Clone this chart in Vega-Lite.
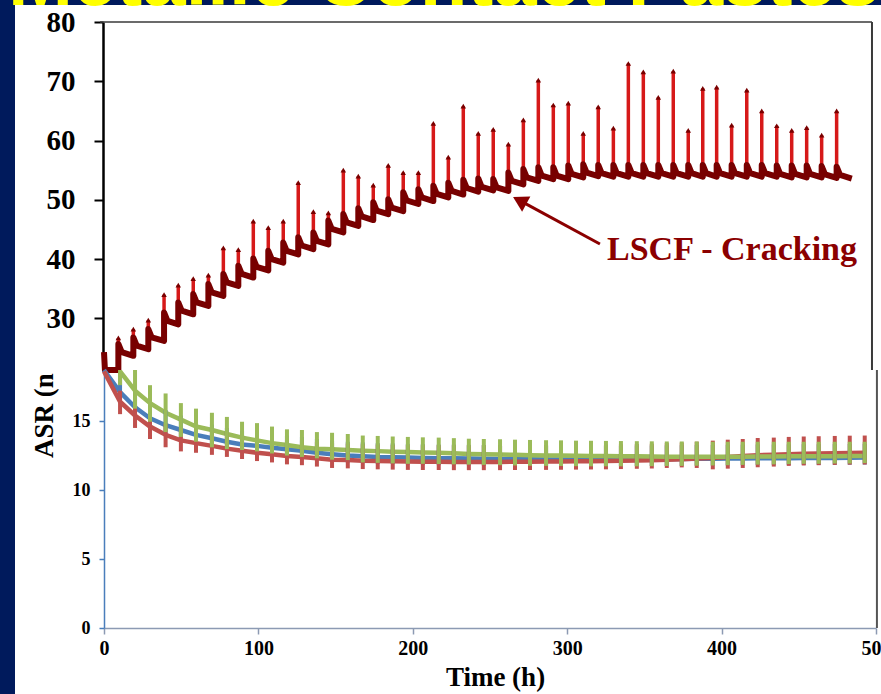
{
  "$schema": "https://vega.github.io/schema/vega-lite/v6.json",
  "width": 866,
  "height": 689,
  "autosize": {"type": "none"},
  "padding": {"left": 15, "top": 5, "right": 0, "bottom": 0},
  "background": "#001a5c",
  "config": {"view": {"stroke": null, "fill": "#ffffff"}, "axis": {"grid": false}},
  "datasets": {
    "spk": [
      {"t": 9.3, "low": 21.3, "peak": 26.7},
      {"t": 19.0, "low": 23.7, "peak": 28.2},
      {"t": 28.7, "low": 24.8, "peak": 29.7},
      {"t": 38.9, "low": 26.2, "peak": 34.0},
      {"t": 48.1, "low": 29.0, "peak": 35.6},
      {"t": 57.8, "low": 30.7, "peak": 36.7},
      {"t": 67.6, "low": 32.1, "peak": 37.3},
      {"t": 77.3, "low": 33.8, "peak": 41.9},
      {"t": 87.0, "low": 35.5, "peak": 41.6},
      {"t": 96.7, "low": 36.9, "peak": 46.4},
      {"t": 106.4, "low": 38.1, "peak": 45.3},
      {"t": 116.1, "low": 39.4, "peak": 46.4},
      {"t": 125.8, "low": 40.8, "peak": 52.9},
      {"t": 135.6, "low": 41.7, "peak": 48.0},
      {"t": 145.3, "low": 42.5, "peak": 47.8},
      {"t": 155.0, "low": 44.5, "peak": 55.0},
      {"t": 164.7, "low": 45.6, "peak": 54.0},
      {"t": 174.4, "low": 46.6, "peak": 52.5},
      {"t": 184.1, "low": 47.6, "peak": 55.8},
      {"t": 193.8, "low": 48.1, "peak": 54.6},
      {"t": 203.6, "low": 49.3, "peak": 54.6},
      {"t": 213.3, "low": 49.8, "peak": 62.9},
      {"t": 223.0, "low": 50.4, "peak": 57.2},
      {"t": 232.7, "low": 50.9, "peak": 65.8},
      {"t": 242.4, "low": 51.4, "peak": 61.2},
      {"t": 252.1, "low": 51.6, "peak": 61.9},
      {"t": 261.9, "low": 51.5, "peak": 59.4},
      {"t": 271.6, "low": 52.6, "peak": 63.5},
      {"t": 281.3, "low": 53.2, "peak": 70.2},
      {"t": 291.0, "low": 53.5, "peak": 66.0},
      {"t": 300.7, "low": 53.5, "peak": 66.3},
      {"t": 310.4, "low": 53.8, "peak": 61.2},
      {"t": 320.1, "low": 54.0, "peak": 65.7},
      {"t": 329.9, "low": 53.9, "peak": 62.1},
      {"t": 339.6, "low": 53.9, "peak": 73.0},
      {"t": 349.3, "low": 53.9, "peak": 71.6},
      {"t": 359.0, "low": 53.9, "peak": 67.3},
      {"t": 368.7, "low": 53.9, "peak": 71.7},
      {"t": 378.4, "low": 53.9, "peak": 61.7},
      {"t": 387.8, "low": 53.9, "peak": 68.8},
      {"t": 396.8, "low": 53.9, "peak": 69.0},
      {"t": 406.5, "low": 53.9, "peak": 62.6},
      {"t": 416.3, "low": 53.9, "peak": 68.5},
      {"t": 426.0, "low": 53.9, "peak": 65.0},
      {"t": 435.7, "low": 53.9, "peak": 62.5},
      {"t": 445.4, "low": 53.8, "peak": 61.7},
      {"t": 455.1, "low": 53.8, "peak": 62.2},
      {"t": 464.8, "low": 53.8, "peak": 60.9},
      {"t": 474.5, "low": 53.7, "peak": 65.0}
    ],
    "band": [
      {"t": 0, "v": 24.3}, {"t": 0.6, "v": 21.3},
      {"t": 9.3, "v": 21.3}, {"t": 9.3, "v": 25.7}, {"t": 11.5, "v": 24.3},
      {"t": 19.0, "v": 23.7}, {"t": 19.0, "v": 26.8}, {"t": 21.2, "v": 25.4},
      {"t": 28.7, "v": 24.8}, {"t": 28.7, "v": 28.2}, {"t": 30.9, "v": 26.8},
      {"t": 38.9, "v": 26.2}, {"t": 38.9, "v": 31.0}, {"t": 41.1, "v": 29.6},
      {"t": 48.1, "v": 29.0}, {"t": 48.1, "v": 32.7}, {"t": 50.3, "v": 31.3},
      {"t": 57.8, "v": 30.7}, {"t": 57.8, "v": 34.1}, {"t": 60.0, "v": 32.7},
      {"t": 67.6, "v": 32.1}, {"t": 67.6, "v": 35.8}, {"t": 69.8, "v": 34.4},
      {"t": 77.3, "v": 33.8}, {"t": 77.3, "v": 37.5}, {"t": 79.5, "v": 36.1},
      {"t": 87.0, "v": 35.5}, {"t": 87.0, "v": 38.9}, {"t": 89.2, "v": 37.5},
      {"t": 96.7, "v": 36.9}, {"t": 96.7, "v": 40.1}, {"t": 98.9, "v": 38.7},
      {"t": 106.4, "v": 38.1}, {"t": 106.4, "v": 41.4}, {"t": 108.6, "v": 40.0},
      {"t": 116.1, "v": 39.4}, {"t": 116.1, "v": 42.8}, {"t": 118.3, "v": 41.4},
      {"t": 125.8, "v": 40.8}, {"t": 125.8, "v": 43.7}, {"t": 128.0, "v": 42.3},
      {"t": 135.6, "v": 41.7}, {"t": 135.6, "v": 44.5}, {"t": 137.8, "v": 43.1},
      {"t": 145.3, "v": 42.5}, {"t": 145.3, "v": 46.5}, {"t": 147.5, "v": 45.1},
      {"t": 155.0, "v": 44.5}, {"t": 155.0, "v": 47.6}, {"t": 157.2, "v": 46.2},
      {"t": 164.7, "v": 45.6}, {"t": 164.7, "v": 48.6}, {"t": 166.9, "v": 47.2},
      {"t": 174.4, "v": 46.6}, {"t": 174.4, "v": 49.6}, {"t": 176.6, "v": 48.2},
      {"t": 184.1, "v": 47.6}, {"t": 184.1, "v": 50.1}, {"t": 186.3, "v": 48.7},
      {"t": 193.8, "v": 48.1}, {"t": 193.8, "v": 51.3}, {"t": 196.0, "v": 49.9},
      {"t": 203.6, "v": 49.3}, {"t": 203.6, "v": 51.8}, {"t": 205.8, "v": 50.4},
      {"t": 213.3, "v": 49.8}, {"t": 213.3, "v": 52.4}, {"t": 215.5, "v": 51.0},
      {"t": 223.0, "v": 50.4}, {"t": 223.0, "v": 52.9}, {"t": 225.2, "v": 51.5},
      {"t": 232.7, "v": 50.9}, {"t": 232.7, "v": 53.4}, {"t": 234.9, "v": 52.0},
      {"t": 242.4, "v": 51.4}, {"t": 242.4, "v": 53.6}, {"t": 244.6, "v": 52.2},
      {"t": 252.1, "v": 51.6}, {"t": 252.1, "v": 53.5}, {"t": 254.3, "v": 52.1},
      {"t": 261.9, "v": 51.5}, {"t": 261.9, "v": 54.6}, {"t": 264.1, "v": 53.2},
      {"t": 271.6, "v": 52.6}, {"t": 271.6, "v": 55.2}, {"t": 273.8, "v": 53.8},
      {"t": 281.3, "v": 53.2}, {"t": 281.3, "v": 55.5}, {"t": 283.5, "v": 54.1},
      {"t": 291.0, "v": 53.5}, {"t": 291.0, "v": 55.5}, {"t": 293.2, "v": 54.1},
      {"t": 300.7, "v": 53.5}, {"t": 300.7, "v": 55.8}, {"t": 302.9, "v": 54.4},
      {"t": 310.4, "v": 53.8}, {"t": 310.4, "v": 56.0}, {"t": 312.6, "v": 54.6},
      {"t": 320.1, "v": 54.0}, {"t": 320.1, "v": 55.9}, {"t": 322.3, "v": 54.5},
      {"t": 329.9, "v": 53.9}, {"t": 329.9, "v": 55.9}, {"t": 332.1, "v": 54.5},
      {"t": 339.6, "v": 53.9}, {"t": 339.6, "v": 55.9}, {"t": 341.8, "v": 54.5},
      {"t": 349.3, "v": 53.9}, {"t": 349.3, "v": 55.9}, {"t": 351.5, "v": 54.5},
      {"t": 359.0, "v": 53.9}, {"t": 359.0, "v": 55.9}, {"t": 361.2, "v": 54.5},
      {"t": 368.7, "v": 53.9}, {"t": 368.7, "v": 55.9}, {"t": 370.9, "v": 54.5},
      {"t": 378.4, "v": 53.9}, {"t": 378.4, "v": 55.9}, {"t": 380.6, "v": 54.5},
      {"t": 387.8, "v": 53.9}, {"t": 387.8, "v": 55.9}, {"t": 390.0, "v": 54.5},
      {"t": 396.8, "v": 53.9}, {"t": 396.8, "v": 55.9}, {"t": 399.0, "v": 54.5},
      {"t": 406.5, "v": 53.9}, {"t": 406.5, "v": 55.9}, {"t": 408.7, "v": 54.5},
      {"t": 416.3, "v": 53.9}, {"t": 416.3, "v": 55.9}, {"t": 418.5, "v": 54.5},
      {"t": 426.0, "v": 53.9}, {"t": 426.0, "v": 55.9}, {"t": 428.2, "v": 54.5},
      {"t": 435.7, "v": 53.9}, {"t": 435.7, "v": 55.8}, {"t": 437.9, "v": 54.4},
      {"t": 445.4, "v": 53.8}, {"t": 445.4, "v": 55.8}, {"t": 447.6, "v": 54.4},
      {"t": 455.1, "v": 53.8}, {"t": 455.1, "v": 55.8}, {"t": 457.3, "v": 54.4},
      {"t": 464.8, "v": 53.8}, {"t": 464.8, "v": 55.7}, {"t": 467.0, "v": 54.3},
      {"t": 474.5, "v": 53.7}, {"t": 474.5, "v": 55.6}, {"t": 476.7, "v": 54.2},
      {"t": 484.3, "v": 53.6}
    ],
    "low": [
      {"s": "S1", "t": 0, "b": 18.7},
      {"s": "S1", "t": 10.4, "b": 17.1, "lo": 16.6, "hi": 18.5},
      {"s": "S1", "t": 20.1, "b": 16.0, "lo": 15.4, "hi": 17.2},
      {"s": "S1", "t": 29.8, "b": 15.2, "lo": 14.6, "hi": 16.3},
      {"s": "S1", "t": 39.9, "b": 14.7, "lo": 14.1, "hi": 15.8},
      {"s": "S1", "t": 49.8, "b": 14.35, "lo": 13.8, "hi": 15.4},
      {"s": "S1", "t": 59.6, "b": 14.0, "lo": 13.5, "hi": 15.0},
      {"s": "S1", "t": 69.9, "b": 13.75, "lo": 13.25, "hi": 14.75},
      {"s": "S1", "t": 79.6, "b": 13.5, "lo": 13.0, "hi": 14.5},
      {"s": "S1", "t": 89.4, "b": 13.3, "lo": 12.8, "hi": 14.3},
      {"s": "S1", "t": 99.1, "b": 13.2, "lo": 12.7, "hi": 14.2},
      {"s": "S1", "t": 108.8, "b": 13.07, "lo": 12.57, "hi": 14.07},
      {"s": "S1", "t": 118.5, "b": 12.95, "lo": 12.45, "hi": 13.95},
      {"s": "S1", "t": 128.2, "b": 12.85, "lo": 12.35, "hi": 13.85},
      {"s": "S1", "t": 137.9, "b": 12.7, "lo": 12.2, "hi": 13.7},
      {"s": "S1", "t": 147.7, "b": 12.6, "lo": 12.1, "hi": 13.6},
      {"s": "S1", "t": 157.9, "b": 12.5, "lo": 12.0, "hi": 13.5},
      {"s": "S1", "t": 167.6, "b": 12.45, "lo": 11.95, "hi": 13.45},
      {"s": "S1", "t": 177.3, "b": 12.4, "lo": 11.9, "hi": 13.4},
      {"s": "S1", "t": 187.0, "b": 12.38, "lo": 11.88, "hi": 13.38},
      {"s": "S1", "t": 196.8, "b": 12.35, "lo": 11.85, "hi": 13.35},
      {"s": "S1", "t": 206.5, "b": 12.33, "lo": 11.83, "hi": 13.33},
      {"s": "S1", "t": 216.8, "b": 12.3, "lo": 11.8, "hi": 13.3},
      {"s": "S1", "t": 226.6, "b": 12.3, "lo": 11.8, "hi": 13.3},
      {"s": "S1", "t": 236.3, "b": 12.28, "lo": 11.78, "hi": 13.28},
      {"s": "S1", "t": 246.0, "b": 12.27, "lo": 11.77, "hi": 13.27},
      {"s": "S1", "t": 256.5, "b": 12.25, "lo": 11.75, "hi": 13.25},
      {"s": "S1", "t": 266.2, "b": 12.25, "lo": 11.75, "hi": 13.25},
      {"s": "S1", "t": 275.9, "b": 12.23, "lo": 11.73, "hi": 13.23},
      {"s": "S1", "t": 286.3, "b": 12.22, "lo": 11.72, "hi": 13.22},
      {"s": "S1", "t": 296.0, "b": 12.22, "lo": 11.72, "hi": 13.22},
      {"s": "S1", "t": 305.7, "b": 12.22, "lo": 11.72, "hi": 13.22},
      {"s": "S1", "t": 315.4, "b": 12.22, "lo": 11.72, "hi": 13.22},
      {"s": "S1", "t": 325.1, "b": 12.22, "lo": 11.72, "hi": 13.22},
      {"s": "S1", "t": 334.8, "b": 12.22, "lo": 11.72, "hi": 13.22},
      {"s": "S1", "t": 345.1, "b": 12.23, "lo": 11.73, "hi": 13.23},
      {"s": "S1", "t": 354.8, "b": 12.23, "lo": 11.73, "hi": 13.23},
      {"s": "S1", "t": 364.5, "b": 12.24, "lo": 11.74, "hi": 13.24},
      {"s": "S1", "t": 374.2, "b": 12.25, "lo": 11.75, "hi": 13.25},
      {"s": "S1", "t": 383.9, "b": 12.26, "lo": 11.76, "hi": 13.26},
      {"s": "S1", "t": 394.3, "b": 12.27, "lo": 11.77, "hi": 13.27},
      {"s": "S1", "t": 404.0, "b": 12.28, "lo": 11.78, "hi": 13.28},
      {"s": "S1", "t": 413.7, "b": 12.29, "lo": 11.79, "hi": 13.29},
      {"s": "S1", "t": 423.4, "b": 12.3, "lo": 11.8, "hi": 13.3},
      {"s": "S1", "t": 433.8, "b": 12.3, "lo": 11.8, "hi": 13.3},
      {"s": "S1", "t": 443.5, "b": 12.31, "lo": 11.81, "hi": 13.31},
      {"s": "S1", "t": 453.2, "b": 12.32, "lo": 11.82, "hi": 13.32},
      {"s": "S1", "t": 462.9, "b": 12.32, "lo": 11.82, "hi": 13.32},
      {"s": "S1", "t": 473.3, "b": 12.33, "lo": 11.83, "hi": 13.33},
      {"s": "S1", "t": 483.0, "b": 12.34, "lo": 11.84, "hi": 13.34},
      {"s": "S1", "t": 492.7, "b": 12.35, "lo": 11.85, "hi": 13.35},
      {"s": "S2", "t": 0, "b": 18.6},
      {"s": "S2", "t": 10.4, "b": 16.4, "lo": 15.5, "hi": 17.2},
      {"s": "S2", "t": 20.1, "b": 15.4, "lo": 14.5, "hi": 16.2},
      {"s": "S2", "t": 29.8, "b": 14.6, "lo": 13.7, "hi": 15.4},
      {"s": "S2", "t": 39.9, "b": 14.0, "lo": 13.1, "hi": 14.8},
      {"s": "S2", "t": 49.8, "b": 13.6, "lo": 12.8, "hi": 14.5},
      {"s": "S2", "t": 59.6, "b": 13.4, "lo": 12.7, "hi": 14.4},
      {"s": "S2", "t": 69.9, "b": 13.2, "lo": 12.55, "hi": 14.3},
      {"s": "S2", "t": 79.6, "b": 13.0, "lo": 12.4, "hi": 14.2},
      {"s": "S2", "t": 89.4, "b": 12.85, "lo": 12.25, "hi": 14.05},
      {"s": "S2", "t": 99.1, "b": 12.7, "lo": 12.1, "hi": 13.9},
      {"s": "S2", "t": 108.8, "b": 12.6, "lo": 12.0, "hi": 13.8},
      {"s": "S2", "t": 118.5, "b": 12.46, "lo": 11.86, "hi": 13.66},
      {"s": "S2", "t": 128.2, "b": 12.4, "lo": 11.8, "hi": 13.6},
      {"s": "S2", "t": 137.9, "b": 12.3, "lo": 11.7, "hi": 13.5},
      {"s": "S2", "t": 147.7, "b": 12.2, "lo": 11.6, "hi": 13.4},
      {"s": "S2", "t": 157.9, "b": 12.17, "lo": 11.57, "hi": 13.37},
      {"s": "S2", "t": 167.6, "b": 12.12, "lo": 11.52, "hi": 13.32},
      {"s": "S2", "t": 177.3, "b": 12.1, "lo": 11.5, "hi": 13.3},
      {"s": "S2", "t": 187.0, "b": 12.08, "lo": 11.48, "hi": 13.28},
      {"s": "S2", "t": 196.8, "b": 12.06, "lo": 11.46, "hi": 13.26},
      {"s": "S2", "t": 206.5, "b": 12.05, "lo": 11.45, "hi": 13.25},
      {"s": "S2", "t": 216.8, "b": 12.05, "lo": 11.45, "hi": 13.25},
      {"s": "S2", "t": 226.6, "b": 12.04, "lo": 11.44, "hi": 13.24},
      {"s": "S2", "t": 236.3, "b": 12.04, "lo": 11.44, "hi": 13.24},
      {"s": "S2", "t": 246.0, "b": 12.04, "lo": 11.44, "hi": 13.24},
      {"s": "S2", "t": 256.5, "b": 12.04, "lo": 11.44, "hi": 13.24},
      {"s": "S2", "t": 266.2, "b": 12.05, "lo": 11.45, "hi": 13.25},
      {"s": "S2", "t": 275.9, "b": 12.05, "lo": 11.45, "hi": 13.25},
      {"s": "S2", "t": 286.3, "b": 12.06, "lo": 11.46, "hi": 13.26},
      {"s": "S2", "t": 296.0, "b": 12.07, "lo": 11.47, "hi": 13.27},
      {"s": "S2", "t": 305.7, "b": 12.08, "lo": 11.48, "hi": 13.28},
      {"s": "S2", "t": 315.4, "b": 12.09, "lo": 11.49, "hi": 13.29},
      {"s": "S2", "t": 325.1, "b": 12.1, "lo": 11.5, "hi": 13.3},
      {"s": "S2", "t": 334.8, "b": 12.12, "lo": 11.52, "hi": 13.32},
      {"s": "S2", "t": 345.1, "b": 12.14, "lo": 11.54, "hi": 13.34},
      {"s": "S2", "t": 354.8, "b": 12.16, "lo": 11.56, "hi": 13.36},
      {"s": "S2", "t": 364.5, "b": 12.2, "lo": 11.6, "hi": 13.4},
      {"s": "S2", "t": 374.2, "b": 12.24, "lo": 11.64, "hi": 13.44},
      {"s": "S2", "t": 383.9, "b": 12.28, "lo": 11.6, "hi": 13.5},
      {"s": "S2", "t": 394.3, "b": 12.33, "lo": 11.5, "hi": 13.58},
      {"s": "S2", "t": 404.0, "b": 12.4, "lo": 11.55, "hi": 13.65},
      {"s": "S2", "t": 413.7, "b": 12.46, "lo": 11.6, "hi": 13.7},
      {"s": "S2", "t": 423.4, "b": 12.52, "lo": 11.65, "hi": 13.77},
      {"s": "S2", "t": 433.8, "b": 12.56, "lo": 11.7, "hi": 13.8},
      {"s": "S2", "t": 443.5, "b": 12.6, "lo": 11.75, "hi": 13.85},
      {"s": "S2", "t": 453.2, "b": 12.63, "lo": 11.78, "hi": 13.88},
      {"s": "S2", "t": 462.9, "b": 12.65, "lo": 11.8, "hi": 13.9},
      {"s": "S2", "t": 473.3, "b": 12.67, "lo": 11.82, "hi": 13.92},
      {"s": "S2", "t": 483.0, "b": 12.69, "lo": 11.84, "hi": 13.94},
      {"s": "S2", "t": 492.7, "b": 12.7, "lo": 11.85, "hi": 13.95},
      {"s": "S3", "t": 10.4, "b": 18.6, "lo": 17.6, "hi": 18.7},
      {"s": "S3", "t": 20.1, "b": 17.2, "lo": 15.9, "hi": 18.7},
      {"s": "S3", "t": 29.8, "b": 16.3, "lo": 14.95, "hi": 17.6},
      {"s": "S3", "t": 39.9, "b": 15.6, "lo": 14.2, "hi": 17.0},
      {"s": "S3", "t": 49.8, "b": 15.1, "lo": 13.85, "hi": 16.3},
      {"s": "S3", "t": 59.6, "b": 14.6, "lo": 13.5, "hi": 15.9},
      {"s": "S3", "t": 69.9, "b": 14.35, "lo": 13.1, "hi": 15.6},
      {"s": "S3", "t": 79.6, "b": 14.06, "lo": 12.97, "hi": 15.3},
      {"s": "S3", "t": 89.4, "b": 13.8, "lo": 12.9, "hi": 14.95},
      {"s": "S3", "t": 99.1, "b": 13.6, "lo": 12.8, "hi": 14.85},
      {"s": "S3", "t": 108.8, "b": 13.4, "lo": 12.65, "hi": 14.6},
      {"s": "S3", "t": 118.5, "b": 13.26, "lo": 12.5, "hi": 14.4},
      {"s": "S3", "t": 128.2, "b": 13.1, "lo": 12.4, "hi": 14.35},
      {"s": "S3", "t": 137.9, "b": 13.0, "lo": 12.3, "hi": 14.2},
      {"s": "S3", "t": 147.7, "b": 12.95, "lo": 12.2, "hi": 14.15},
      {"s": "S3", "t": 157.9, "b": 12.9, "lo": 12.17, "hi": 14.06},
      {"s": "S3", "t": 167.6, "b": 12.85, "lo": 12.0, "hi": 13.95},
      {"s": "S3", "t": 177.3, "b": 12.82, "lo": 11.97, "hi": 13.92},
      {"s": "S3", "t": 187.0, "b": 12.78, "lo": 11.93, "hi": 13.88},
      {"s": "S3", "t": 196.8, "b": 12.75, "lo": 11.9, "hi": 13.85},
      {"s": "S3", "t": 206.5, "b": 12.72, "lo": 11.9, "hi": 13.82},
      {"s": "S3", "t": 216.8, "b": 12.7, "lo": 11.88, "hi": 13.8},
      {"s": "S3", "t": 226.6, "b": 12.66, "lo": 11.86, "hi": 13.76},
      {"s": "S3", "t": 236.3, "b": 12.62, "lo": 11.84, "hi": 13.72},
      {"s": "S3", "t": 246.0, "b": 12.6, "lo": 11.82, "hi": 13.7},
      {"s": "S3", "t": 256.5, "b": 12.58, "lo": 11.8, "hi": 13.68},
      {"s": "S3", "t": 266.2, "b": 12.55, "lo": 11.78, "hi": 13.65},
      {"s": "S3", "t": 275.9, "b": 12.53, "lo": 11.76, "hi": 13.63},
      {"s": "S3", "t": 286.3, "b": 12.51, "lo": 11.75, "hi": 13.61},
      {"s": "S3", "t": 296.0, "b": 12.5, "lo": 11.74, "hi": 13.6},
      {"s": "S3", "t": 305.7, "b": 12.48, "lo": 11.73, "hi": 13.58},
      {"s": "S3", "t": 315.4, "b": 12.47, "lo": 11.72, "hi": 13.57},
      {"s": "S3", "t": 325.1, "b": 12.46, "lo": 11.72, "hi": 13.56},
      {"s": "S3", "t": 334.8, "b": 12.45, "lo": 11.72, "hi": 13.55},
      {"s": "S3", "t": 345.1, "b": 12.44, "lo": 11.72, "hi": 13.54},
      {"s": "S3", "t": 354.8, "b": 12.43, "lo": 11.73, "hi": 13.53},
      {"s": "S3", "t": 364.5, "b": 12.42, "lo": 11.74, "hi": 13.52},
      {"s": "S3", "t": 374.2, "b": 12.42, "lo": 11.75, "hi": 13.52},
      {"s": "S3", "t": 383.9, "b": 12.42, "lo": 11.76, "hi": 13.52},
      {"s": "S3", "t": 394.3, "b": 12.42, "lo": 11.78, "hi": 13.5},
      {"s": "S3", "t": 404.0, "b": 12.42, "lo": 11.8, "hi": 13.5},
      {"s": "S3", "t": 413.7, "b": 12.42, "lo": 11.82, "hi": 13.5},
      {"s": "S3", "t": 423.4, "b": 12.43, "lo": 11.84, "hi": 13.5},
      {"s": "S3", "t": 433.8, "b": 12.43, "lo": 11.86, "hi": 13.5},
      {"s": "S3", "t": 443.5, "b": 12.44, "lo": 11.88, "hi": 13.5},
      {"s": "S3", "t": 453.2, "b": 12.44, "lo": 11.9, "hi": 13.5},
      {"s": "S3", "t": 462.9, "b": 12.45, "lo": 11.9, "hi": 13.5},
      {"s": "S3", "t": 473.3, "b": 12.45, "lo": 11.92, "hi": 13.5},
      {"s": "S3", "t": 483.0, "b": 12.46, "lo": 11.92, "hi": 13.5},
      {"s": "S3", "t": 492.7, "b": 12.46, "lo": 11.95, "hi": 13.5}
    ]
  },
  "layer": [
    {
      "layer": [
        {
          "data": {"name": "spk"},
          "mark": {"type": "rule", "color": "#d20000", "strokeWidth": 3.5, "opacity": 0.9},
          "encoding": {
            "x": {"field": "t", "type": "quantitative", "scale": {"domain": [0, 500], "range": [89, 861], "nice": false, "zero": false}},
            "y": {
              "field": "low", "type": "quantitative",
              "scale": {"domain": [21.3, 80], "range": [365, 17], "nice": false, "zero": false},
              "axis": {
                "orient": "left", "offset": -88, "values": [30, 40, 50, 60, 70, 80],
                "domainColor": "#000000", "domainWidth": 2.5, "tickColor": "#000000", "tickWidth": 2, "tickSize": 9,
                "labelFont": "Liberation Serif", "labelFontWeight": "bold", "labelFontSize": 29, "labelColor": "#000000",
                "labelPadding": 19, "labelFlush": false, "labelOverlap": false, "title": null, "grid": false
              }
            },
            "y2": {"field": "peak"}
          }
        },
        {
          "data": {"name": "band"},
          "mark": {"type": "line", "color": "#780000", "strokeWidth": 6, "strokeJoin": "round"},
          "encoding": {
            "x": {"field": "t", "type": "quantitative", "scale": {"domain": [0, 500], "range": [89, 861], "nice": false, "zero": false}},
            "y": {"field": "v", "type": "quantitative", "scale": {"domain": [21.3, 80], "range": [365, 17], "nice": false, "zero": false}},
            "order": {"value": null}
          }
        },
        {
          "data": {"name": "spk"},
          "mark": {"type": "point", "shape": "triangle-up", "filled": true, "size": 30, "color": "#780000", "opacity": 1},
          "encoding": {
            "x": {"field": "t", "type": "quantitative", "scale": {"domain": [0, 500], "range": [89, 861], "nice": false, "zero": false}},
            "y": {"field": "peak", "type": "quantitative", "scale": {"domain": [21.3, 80], "range": [365, 17], "nice": false, "zero": false}}
          }
        },
        {
          "data": {"values": [{}]},
          "mark": {"type": "rule", "color": "#3a3a3a", "strokeWidth": 1.5},
          "encoding": {
            "x": {"datum": -2.6, "type": "quantitative", "scale": {"domain": [0, 500], "range": [89, 861], "nice": false, "zero": false}},
            "x2": {"datum": 497.4},
            "y": {"datum": 80, "type": "quantitative", "scale": {"domain": [21.3, 80], "range": [365, 17], "nice": false, "zero": false}}
          }
        },
        {
          "data": {"values": [{}]},
          "mark": {"type": "rule", "color": "#3a3a3a", "strokeWidth": 2},
          "encoding": {
            "x": {"datum": 497.4, "type": "quantitative", "scale": {"domain": [0, 500], "range": [89, 861], "nice": false, "zero": false}},
            "y": {"datum": 80, "type": "quantitative", "scale": {"domain": [21.3, 80], "range": [365, 17], "nice": false, "zero": false}},
            "y2": {"datum": 21.3}
          }
        },
        {
          "data": {"values": [{}]},
          "mark": {"type": "rule", "color": "#8b0000", "strokeWidth": 3},
          "encoding": {
            "x": {"datum": 321.2, "type": "quantitative", "scale": {"domain": [0, 500], "range": [89, 861], "nice": false, "zero": false}},
            "x2": {"datum": 271.8},
            "y": {"datum": 42.56, "type": "quantitative", "scale": {"domain": [21.3, 80], "range": [365, 17], "nice": false, "zero": false}},
            "y2": {"datum": 49.53}
          }
        },
        {
          "data": {"values": [{}]},
          "mark": {"type": "point", "shape": "triangle-up", "filled": true, "size": 300, "color": "#8b0000", "opacity": 1, "angle": 298.4},
          "encoding": {
            "x": {"datum": 269.2, "type": "quantitative", "scale": {"domain": [0, 500], "range": [89, 861], "nice": false, "zero": false}},
            "y": {"datum": 49.88, "type": "quantitative", "scale": {"domain": [21.3, 80], "range": [365, 17], "nice": false, "zero": false}}
          }
        },
        {
          "data": {"values": [{}]},
          "mark": {"type": "text", "text": "LSCF - Cracking", "align": "left", "baseline": "middle", "font": "Liberation Serif", "fontWeight": "bold", "fontSize": 34, "color": "#8b0000"},
          "encoding": {
            "x": {"datum": 325.8, "type": "quantitative", "scale": {"domain": [0, 500], "range": [89, 861], "nice": false, "zero": false}},
            "y": {"datum": 41.6, "type": "quantitative", "scale": {"domain": [21.3, 80], "range": [365, 17], "nice": false, "zero": false}}
          }
        },
        {
          "data": {"values": [{}]},
          "mark": {"type": "text", "text": "Metallic Contact Pastes", "align": "left", "baseline": "alphabetic", "font": "Liberation Sans", "fontWeight": "bold", "fontSize": 78, "color": "#ffff00"},
          "encoding": {
            "x": {"datum": -62.2, "type": "quantitative", "scale": {"domain": [0, 500], "range": [89, 861], "nice": false, "zero": false}},
            "y": {"datum": 82.85, "type": "quantitative", "scale": {"domain": [21.3, 80], "range": [365, 17], "nice": false, "zero": false}}
          }
        }
      ]
    },
    {
      "data": {"name": "low"},
      "layer": [
        {
          "mark": {"type": "line", "strokeWidth": 4.5, "strokeJoin": "round"},
          "encoding": {
            "x": {
              "field": "t", "type": "quantitative",
              "scale": {"domain": [0, 500], "range": [89, 861], "nice": false, "zero": false},
              "axis": {
                "orient": "bottom", "offset": -66, "values": [0, 100, 200, 300, 400, 500],
                "domainColor": "#8c9ab3", "domainWidth": 1.5, "tickColor": "#8c9ab3", "tickWidth": 1.5, "tickSize": 6,
                "labelFont": "Liberation Serif", "labelFontWeight": "bold", "labelFontSize": 20, "labelColor": "#000000",
                "labelPadding": 4, "labelFlush": false, "labelOverlap": false,
                "title": "Time (h)", "titleFont": "Liberation Serif", "titleFontWeight": "bold", "titleFontSize": 27,
                "titleColor": "#000000", "titlePadding": 6, "titleX": 480, "grid": false
              }
            },
            "y": {
              "field": "b", "type": "quantitative",
              "scale": {"domain": [0, 18.7], "range": [623, 365], "nice": false, "zero": false},
              "axis": {
                "orient": "left", "offset": -89, "values": [0, 5, 10, 15],
                "domainColor": "#4a7ebb", "domainWidth": 1.5, "tickColor": "#4a7ebb", "tickWidth": 1.5, "tickSize": 5,
                "labelFont": "Liberation Serif", "labelFontWeight": "bold", "labelFontSize": 18, "labelColor": "#000000",
                "labelPadding": 9, "labelFlush": false, "labelOverlap": false,
                "title": "ASR (n", "titleFont": "Liberation Serif", "titleFontWeight": "bold", "titleFontSize": 27,
                "titleColor": "#000000", "titleAngle": -90, "titleX": -60, "titleY": 410, "titleAlign": "center",
                "titleBaseline": "middle", "grid": false
              }
            },
            "color": {"field": "s", "type": "nominal", "scale": {"domain": ["S1", "S2", "S3"], "range": ["#4a7ebb", "#c0504d", "#9bbb59"]}, "legend": null}
          }
        },
        {
          "transform": [{"filter": "isValid(datum.lo)"}],
          "mark": {"type": "rule", "strokeWidth": 4},
          "encoding": {
            "x": {"field": "t", "type": "quantitative", "scale": {"domain": [0, 500], "range": [89, 861], "nice": false, "zero": false}},
            "y": {"field": "lo", "type": "quantitative", "scale": {"domain": [0, 18.7], "range": [623, 365], "nice": false, "zero": false}},
            "y2": {"field": "hi"},
            "color": {"field": "s", "type": "nominal", "scale": {"domain": ["S1", "S2", "S3"], "range": ["#4a7ebb", "#c0504d", "#9bbb59"]}, "legend": null}
          }
        },
        {
          "data": {"values": [{}]},
          "mark": {"type": "rule", "color": "#555555", "strokeWidth": 2},
          "encoding": {
            "x": {"datum": 500.6, "type": "quantitative", "scale": {"domain": [0, 500], "range": [89, 861], "nice": false, "zero": false}},
            "y": {"datum": 0, "type": "quantitative", "scale": {"domain": [0, 18.7], "range": [623, 365], "nice": false, "zero": false}},
            "y2": {"datum": 18.7}
          }
        }
      ]
    }
  ],
  "resolve": {"scale": {"y": "independent"}, "axis": {"y": "independent"}}
}
